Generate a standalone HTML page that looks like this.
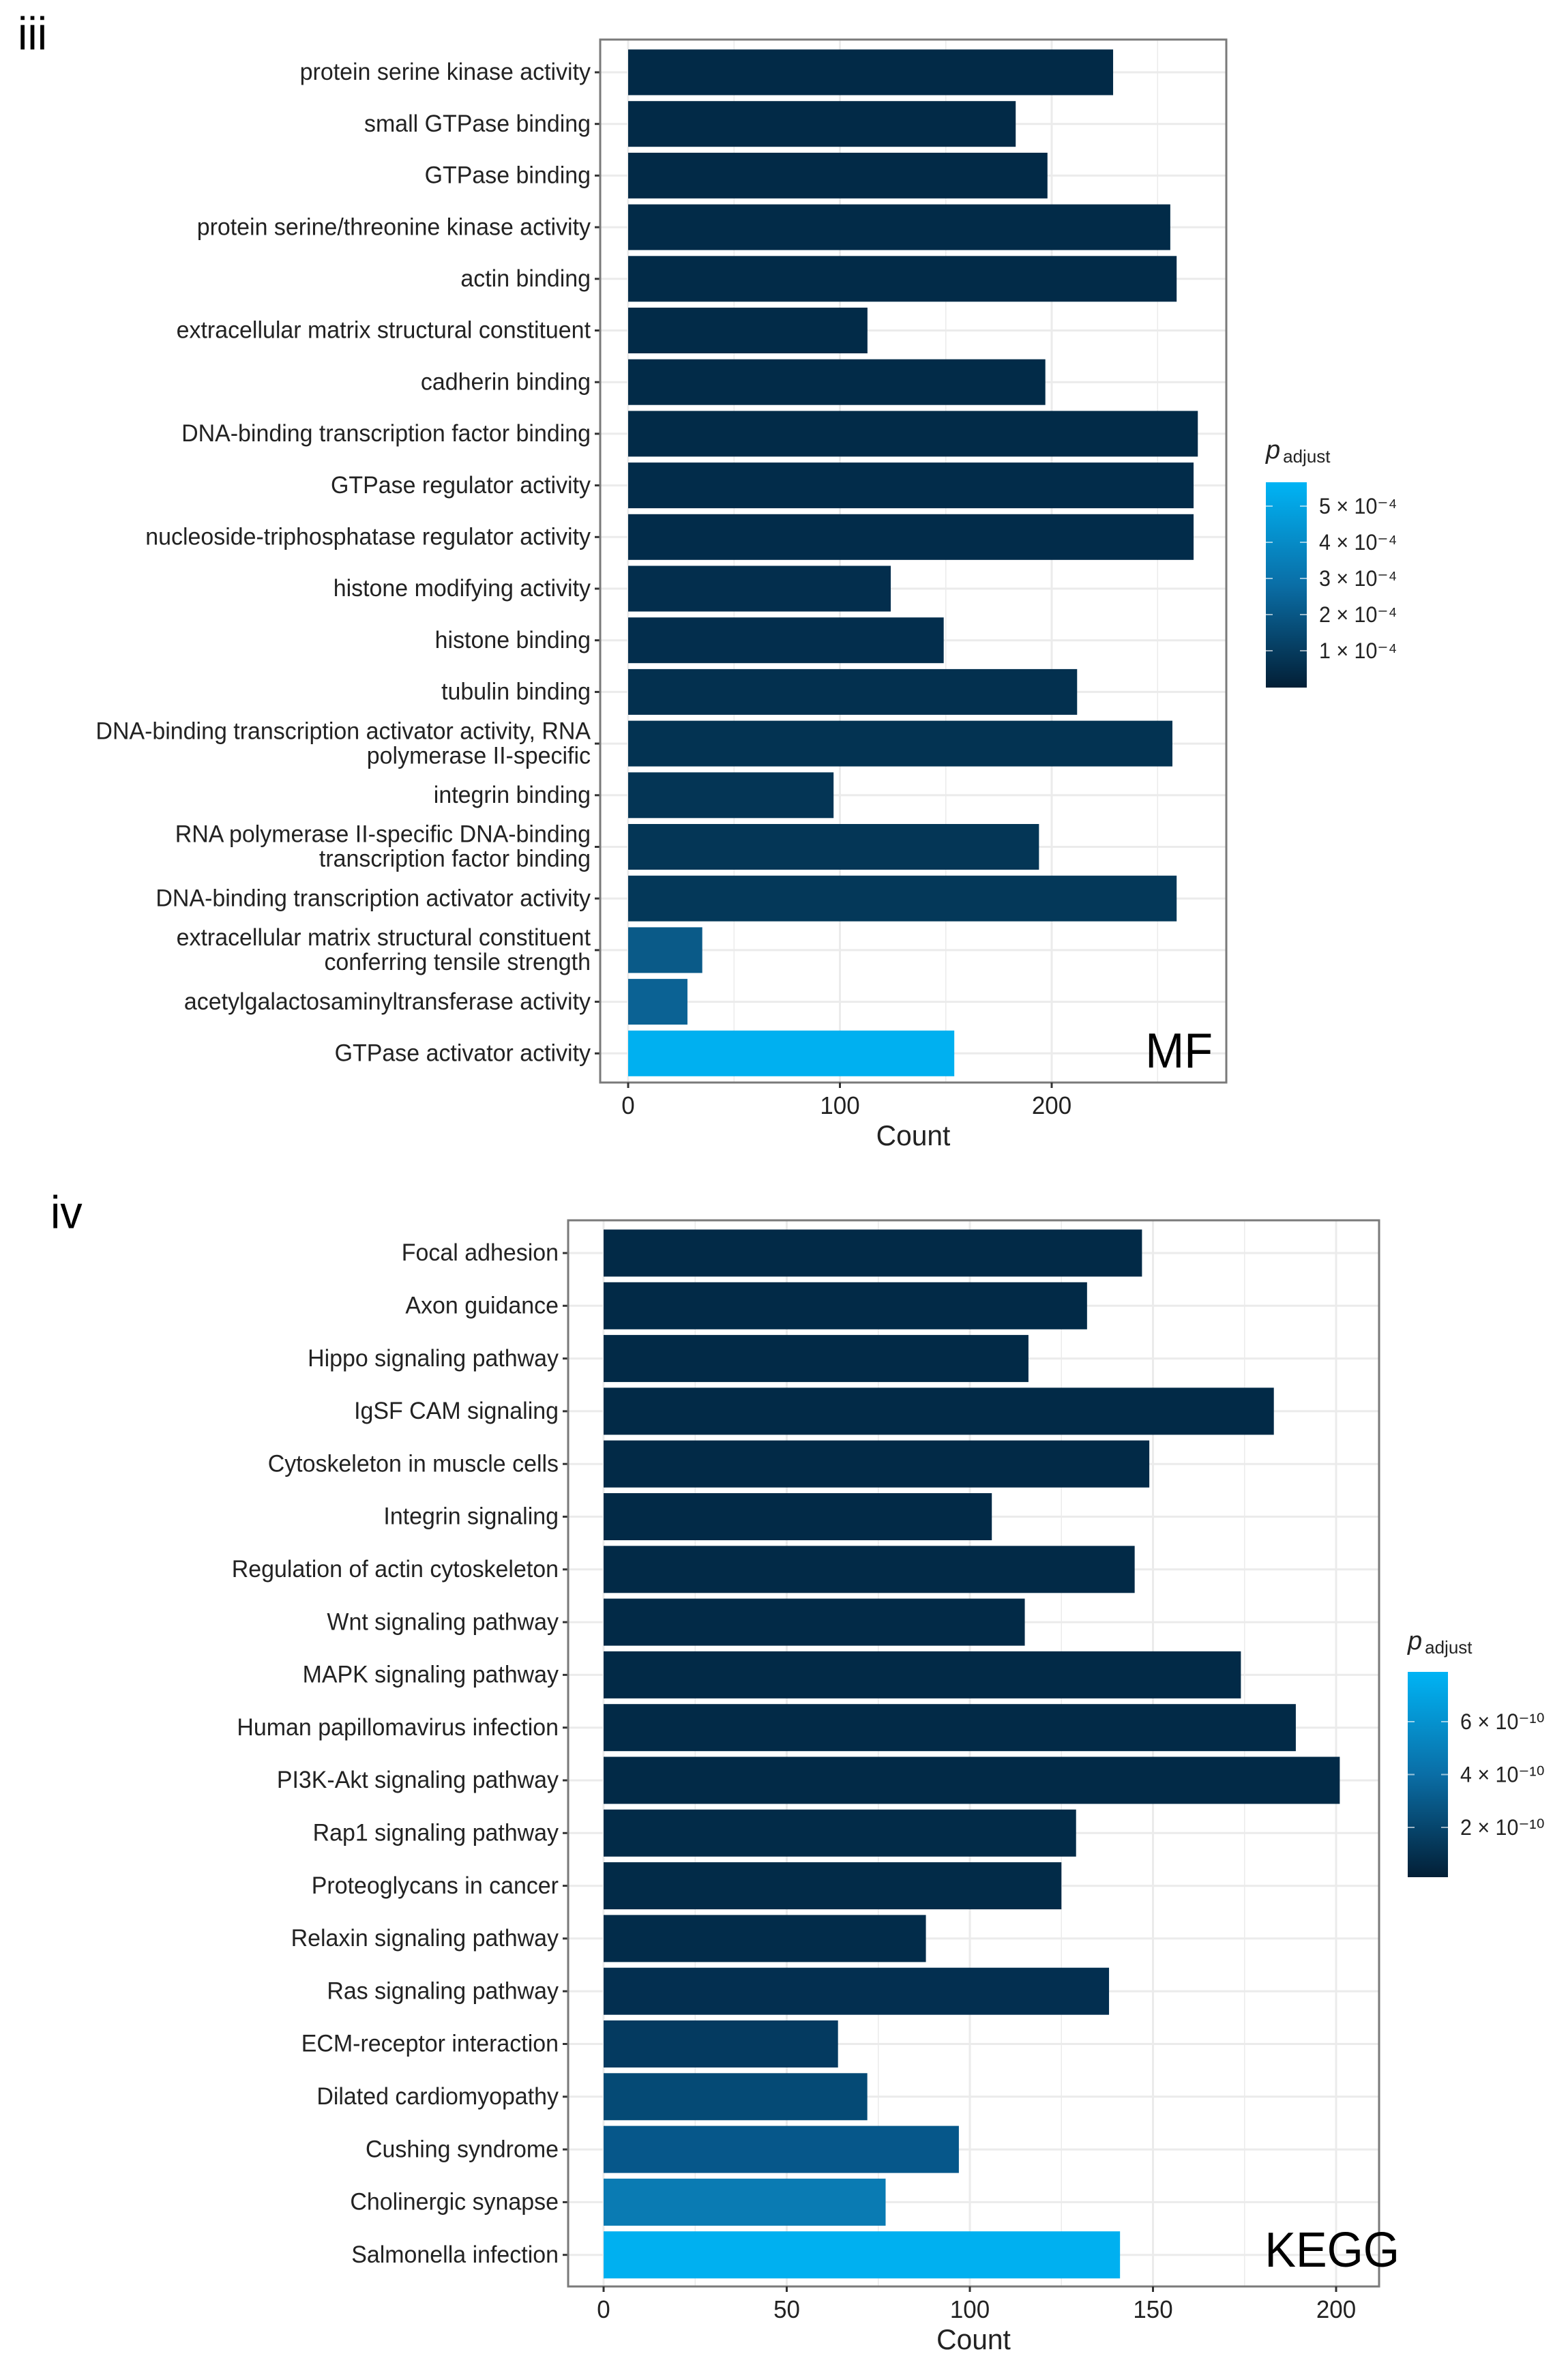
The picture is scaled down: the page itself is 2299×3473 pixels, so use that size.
<!DOCTYPE html>
<html><head><meta charset="utf-8"><style>
html,body{margin:0;padding:0;background:#fff;}
svg{display:block;font-family:"Liberation Sans",sans-serif;}
</style></head><body>
<svg id="fig" width="2299" height="3473" viewBox="0 0 2299 3473" xmlns="http://www.w3.org/2000/svg"></svg>
<script>
// ---- MF panel data ----
const mfTerms = ["protein serine kinase activity","small GTPase binding","GTPase binding","protein serine/threonine kinase activity","actin binding","extracellular matrix structural constituent","cadherin binding","DNA-binding transcription factor binding","GTPase regulator activity","nucleoside-triphosphatase regulator activity","histone modifying activity","histone binding","tubulin binding","DNA-binding transcription activator activity, RNA|polymerase II-specific","integrin binding","RNA polymerase II-specific DNA-binding|transcription factor binding","DNA-binding transcription activator activity","extracellular matrix structural constituent|conferring tensile strength","acetylgalactosaminyltransferase activity","GTPase activator activity"];
const mfCounts = [229,183,198,256,259,113,197,269,267,267,124,149,212,257,97,194,259,35,28,154];
const mfColors = ["#022a47","#022a47","#022a47","#022b48","#022b48","#022b48","#022b48","#022b48","#022c4a","#022c4a","#032e4d","#032e4d","#03304f","#033352","#043555","#043656","#043859","#0a5a88","#0b6294","#00b0f0"];
const mfTicks = [0,100,200];
const mfLegend = ["5 × 10⁻⁴","4 × 10⁻⁴","3 × 10⁻⁴","2 × 10⁻⁴","1 × 10⁻⁴"];
// ---- KEGG panel data ----
const kgTerms = ["Focal adhesion","Axon guidance","Hippo signaling pathway","IgSF CAM signaling","Cytoskeleton in muscle cells","Integrin signaling","Regulation of actin cytoskeleton","Wnt signaling pathway","MAPK signaling pathway","Human papillomavirus infection","PI3K-Akt signaling pathway","Rap1 signaling pathway","Proteoglycans in cancer","Relaxin signaling pathway","Ras signaling pathway","ECM-receptor interaction","Dilated cardiomyopathy","Cushing syndrome","Cholinergic synapse","Salmonella infection"];
const kgCounts = [147,132,116,183,149,106,145,115,174,189,201,129,125,88,138,64,72,97,77,141];
const kgColors = ["#022a47","#022a47","#022a47","#022a47","#022a47","#022a47","#022a47","#022a47","#022a47","#022a47","#022a47","#022b48","#022b48","#022c4a","#032f50","#043a60","#054a75","#06578a","#0a7bb3","#00b0f0"];
const kgTicks = [0,50,100,150,200];
const kgLegend = ["6 × 10⁻¹⁰","4 × 10⁻¹⁰","2 × 10⁻¹⁰"];

const NS="http://www.w3.org/2000/svg";
const svg=document.getElementById('fig');
function mk(tag,attrs,parent){const e=document.createElementNS(NS,tag);for(const k in attrs)e.setAttribute(k,attrs[k]);(parent||svg).appendChild(e);return e;}
function label(txt,x,y,size,anchor,sx,parent){
  const t=mk('text',{transform:`translate(${x},${y}) scale(${sx},1)`,'font-size':size,'text-anchor':anchor,'dominant-baseline':'central',fill:'#222'},parent);
  t.textContent=txt;return t;
}

function panel(cfg){
  const g=mk('g',{});
  
  
  const xs=v=>cfg.x0+v*cfg.ppu;
  const ys=i=>cfg.y0+i*cfg.step;
  for(let v=cfg.ticks[0];xs(v)<cfg.right;v+=(cfg.ticks[1]-cfg.ticks[0])/2){
    const gl=mk('line',{x1:xs(v),x2:xs(v),y1:cfg.top,y2:cfg.bottom,stroke:'#ebebeb','stroke-width':(cfg.ticks.includes(v)?3:1.5)},g);
    
    
  }
  cfg.terms.forEach((t,i)=>{
    const hl=mk('line',{x1:cfg.left,x2:cfg.right,y1:ys(i),y2:ys(i),stroke:'#ebebeb','stroke-width':3},g);
    
    
  });
  cfg.terms.forEach((t,i)=>{
    const b=mk('rect',{x:xs(0),y:ys(i)-cfg.bh/2,width:xs(cfg.counts[i])-xs(0),height:cfg.bh,fill:cfg.colors[i]},g);
    
    
    mk('line',{x1:cfg.left-8,x2:cfg.left,y1:ys(i),y2:ys(i),stroke:'#333','stroke-width':3},g);
    const parts=t.split('|');
    if(parts.length===1){
      const l=label(parts[0],cfg.left-14,ys(i),35,'end',0.97,g);
      
      
    } else {
      parts.forEach((p,k)=>{
        const l=label(p,cfg.left-14,ys(i)+(k===0?-18:18),35,'end',0.97,g);
        
        
      });
    }
  });
  const br=mk('rect',{x:cfg.left,y:cfg.top,width:cfg.right-cfg.left,height:cfg.bottom-cfg.top,fill:'none',stroke:'#7a7a7a','stroke-width':3},g);
  
  
  cfg.ticks.forEach(v=>{
    mk('line',{x1:xs(v),x2:xs(v),y1:cfg.bottom,y2:cfg.bottom+8,stroke:'#333','stroke-width':3},g);
    const l=label(String(v),xs(v),cfg.bottom+34,36,'middle',0.97,g);
    
    
  });
  const xt=label('Count',(cfg.left+cfg.right)/2,cfg.bottom+78,42,'middle',0.97,g);
  
  
  const tg=label(cfg.tag,cfg.tagX,cfg.tagY,72,'end',0.95,g);
  tg.setAttribute('fill','#000');
  
  
  const pl=label(cfg.letter,cfg.letterX,cfg.letterY,68,'start',0.95,g);
  pl.setAttribute('fill','#000');
  
  
  const lg=mk('g',{},g);
  
  
  const gid='grad'+cfg.name;
  const defs=mk('defs',{},lg);
  const gr=mk('linearGradient',{id:gid,x1:0,y1:0,x2:0,y2:1},defs);
  mk('stop',{offset:'0','stop-color':'#00b4f5'},gr);
  mk('stop',{offset:'0.5','stop-color':'#0a6ea6'},gr);
  mk('stop',{offset:'1','stop-color':'#031f36'},gr);
  const tt=mk('text',{x:cfg.lx,y:cfg.ltitleY,'font-size':38,fill:'#222','font-style':'italic'},lg);
  tt.textContent='p';
  const ts=mk('tspan',{'font-size':26,'font-style':'normal',dx:4,dy:6},tt);
  ts.textContent='adjust';
  mk('rect',{x:cfg.lx,y:cfg.ly0,width:cfg.lw,height:cfg.ly1-cfg.ly0,fill:`url(#${gid})`},lg);
  cfg.legend.forEach((s,k)=>{
    const y=cfg.legY[0]+k*cfg.legY[1];
    mk('line',{x1:cfg.lx,x2:cfg.lx+10,y1:y,y2:y,stroke:'#fff','stroke-width':2,opacity:0.6},lg);
    mk('line',{x1:cfg.lx+cfg.lw-10,x2:cfg.lx+cfg.lw,y1:y,y2:y,stroke:'#fff','stroke-width':2,opacity:0.6},lg);
    const l=label(s,cfg.lx+cfg.lw+18,y,32,'start',0.95,lg);
    
    
  });
}

panel({name:'mf-panel',terms:mfTerms,counts:mfCounts,colors:mfColors,ticks:mfTicks,legend:mfLegend,
  left:880,right:1798,top:58,bottom:1587,x0:921,ppu:3.105,y0:106,step:75.7,bh:67,
  tag:'MF',tagX:1778,tagY:1540,letter:'iii',letterX:26,letterY:50,
  lx:1856,lw:60,ltitleY:672,ly0:707,ly1:1008,legY:[742,53]});
panel({name:'kegg-panel',terms:kgTerms,counts:kgCounts,colors:kgColors,ticks:kgTicks,legend:kgLegend,
  left:833,right:2022,top:1789,bottom:3352,x0:885,ppu:5.37,y0:1837,step:77.3,bh:69,
  tag:'KEGG',tagX:2052,tagY:3298,letter:'iv',letterX:74,letterY:1778,
  lx:2064,lw:59,ltitleY:2418,ly0:2451,ly1:2752,legY:[2524,77.5]});
</script>
</body></html>
